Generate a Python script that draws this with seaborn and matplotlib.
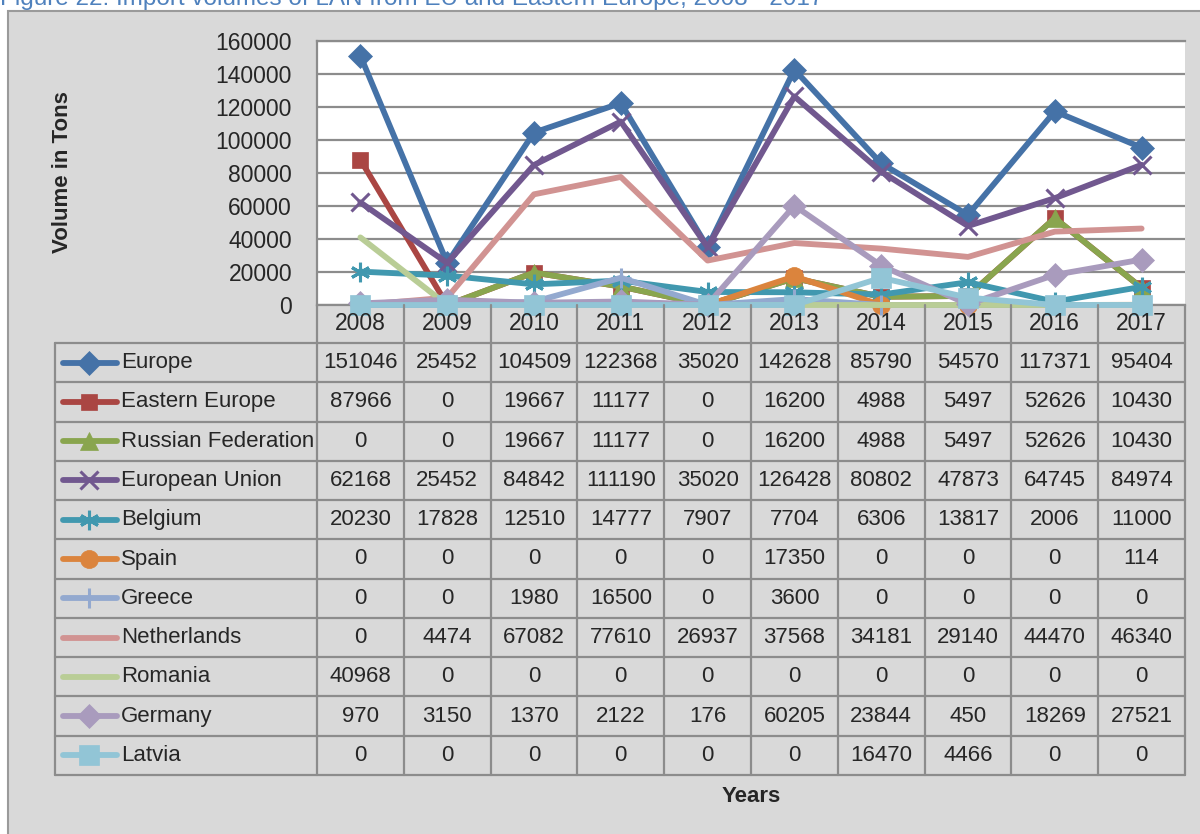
import matplotlib
matplotlib.use("Agg")
import matplotlib.pyplot as plt
from matplotlib.lines import Line2D
from matplotlib.patches import Rectangle
import seaborn as sns

years = [2008, 2009, 2010, 2011, 2012, 2013, 2014, 2015, 2016, 2017]
series_names = ["Europe", "Eastern Europe", "Russian Federation", "European Union",
                "Belgium", "Spain", "Greece", "Netherlands", "Romania", "Germany", "Latvia"]
europe = [151046, 25452, 104509, 122368, 35020, 142628, 85790, 54570, 117371, 95404]
eastern_europe = [87966, 0, 19667, 11177, 0, 16200, 4988, 5497, 52626, 10430]
russian_federation = [0, 0, 19667, 11177, 0, 16200, 4988, 5497, 52626, 10430]
european_union = [62168, 25452, 84842, 111190, 35020, 126428, 80802, 47873, 64745, 84974]
belgium = [20230, 17828, 12510, 14777, 7907, 7704, 6306, 13817, 2006, 11000]
spain = [0, 0, 0, 0, 0, 17350, 0, 0, 0, 114]
greece = [0, 0, 1980, 16500, 0, 3600, 0, 0, 0, 0]
netherlands = [0, 4474, 67082, 77610, 26937, 37568, 34181, 29140, 44470, 46340]
romania = [40968, 0, 0, 0, 0, 0, 0, 0, 0, 0]
germany = [970, 3150, 1370, 2122, 176, 60205, 23844, 450, 18269, 27521]
latvia = [0, 0, 0, 0, 0, 0, 16470, 4466, 0, 0]
series_values = [europe, eastern_europe, russian_federation, european_union, belgium,
                 spain, greece, netherlands, romania, germany, latvia]
y_ticks = [0, 20000, 40000, 60000, 80000, 100000, 120000, 140000, 160000]

colors = ["#4572A7", "#AA4643", "#89A54E", "#71588F", "#4198AF", "#DB843D",
          "#93A9CF", "#D19392", "#B9CD96", "#A99BBD", "#92C5D6"]
markers = ["D", "s", "^", "x", (6, 2, 0), "o", "+", None, None, "D", "s"]
msizes = [12, 12, 13, 13, 14, 13, 14, 0, 0, 12, 14]

sns.set_style("white")
plt.rcParams["font.family"] = ["Liberation Sans", "DejaVu Sans"]

W, H = 1200, 834
fig = plt.figure(figsize=(W / 100, H / 100), dpi=100, facecolor="white")

def fx(x):
    return x / W

def fy(y):
    return 1 - y / H

# chart area background
fig.add_artist(Rectangle((fx(8), fy(H + 5)), fx(W), fy(11) - fy(H + 5),
                         transform=fig.transFigure, facecolor="#D9D9D9",
                         edgecolor="#9A9A9A", lw=1.5, zorder=0))

fig.text(fx(0), fy(5), "Figure 22: Import volumes of LAN from EU and Eastern Europe, 2008 - 2017",
         color="#4F81BD", fontsize=17.5, ha="left", va="baseline")

L, R, T, B = 317, 1185, 41, 305
ax = fig.add_axes([fx(L), fy(B), fx(R - L), fy(T) - fy(B)])
ax.set_facecolor("white")

grid_c = "#8C8C8C"

def mew_for(m):
    return 2.2 if m in ("x", "+") or isinstance(m, tuple) else 0.5

for i, (name, vals) in enumerate(zip(series_names, series_values)):
    kw = dict(color=colors[i], linewidth=4.2, clip_on=False, zorder=3 + i)
    if markers[i] is not None:
        kw.update(marker=markers[i], markersize=msizes[i],
                  markeredgecolor=colors[i], markerfacecolor=colors[i],
                  markeredgewidth=mew_for(markers[i]))
    sns.lineplot(x=years, y=vals, ax=ax, legend=False, **kw)

ax.set_xlim(years[0] - 0.5, years[-1] + 0.5)
ax.set_ylim(0, 160000)
ax.set_yticks(y_ticks)
ax.set_yticklabels([str(v) for v in y_ticks], fontsize=16.5)
ax.tick_params(axis="y", length=0, pad=18)
ax.set_xticks([])
ax.grid(axis="y", color=grid_c, lw=1.6)
ax.set_axisbelow(True)
for s in ["left", "top", "bottom"]:
    ax.spines[s].set_color(grid_c)
    ax.spines[s].set_linewidth(1.6)
ax.spines["right"].set_visible(False)
ax.set_xlabel("")
ax.set_ylabel("")

# axis titles
fig.text(fx(62), fy(172), "Volume in Tons", rotation=90, fontsize=16, fontweight="bold",
         ha="center", va="center")
fig.text(fx(751), fy(796), "Years", fontsize=16, fontweight="bold",
         ha="center", va="center")

# data table
TL = 55
col_w = (R - L) / len(years)
hdr_b = 343
tbl_b = 775
row_h = (tbl_b - hdr_b) / len(series_names)

def hline(y, x0, x1):
    fig.add_artist(Line2D([fx(x0), fx(x1)], [fy(y), fy(y)], color=grid_c, lw=1.6,
                          transform=fig.transFigure, zorder=5))

def vline(x, y0, y1):
    fig.add_artist(Line2D([fx(x), fx(x)], [fy(y0), fy(y1)], color=grid_c, lw=1.6,
                          transform=fig.transFigure, zorder=5))

for j in range(len(years) + 1):
    vline(L + j * col_w, B, tbl_b)
vline(TL, hdr_b, tbl_b)
for k in range(len(series_names) + 1):
    hline(hdr_b + k * row_h, TL, R)

for j, yr in enumerate(years):
    fig.text(fx(L + (j + 0.5) * col_w), fy((B + hdr_b) / 2), str(yr), fontsize=16.5,
             ha="center", va="center")

for i, (name, vals) in enumerate(zip(series_names, series_values)):
    yc = hdr_b + (i + 0.5) * row_h
    for j, v in enumerate(vals):
        fig.text(fx(L + (j + 0.5) * col_w), fy(yc), str(v), fontsize=16,
                 ha="center", va="center")
    fig.text(fx(121), fy(yc), name, fontsize=16, ha="left", va="center")
    lk = dict(color=colors[i], lw=4.2, transform=fig.transFigure, zorder=6,
              solid_capstyle="round")
    fig.add_artist(Line2D([fx(63), fx(117)], [fy(yc), fy(yc)], **lk))
    if markers[i] is not None:
        fig.add_artist(Line2D([fx(89)], [fy(yc)], marker=markers[i], markersize=msizes[i],
                              markeredgecolor=colors[i], markerfacecolor=colors[i],
                              markeredgewidth=mew_for(markers[i]),
                              linestyle="none", transform=fig.transFigure, zorder=7))

fig.savefig("out.png", dpi=100, facecolor="white")
